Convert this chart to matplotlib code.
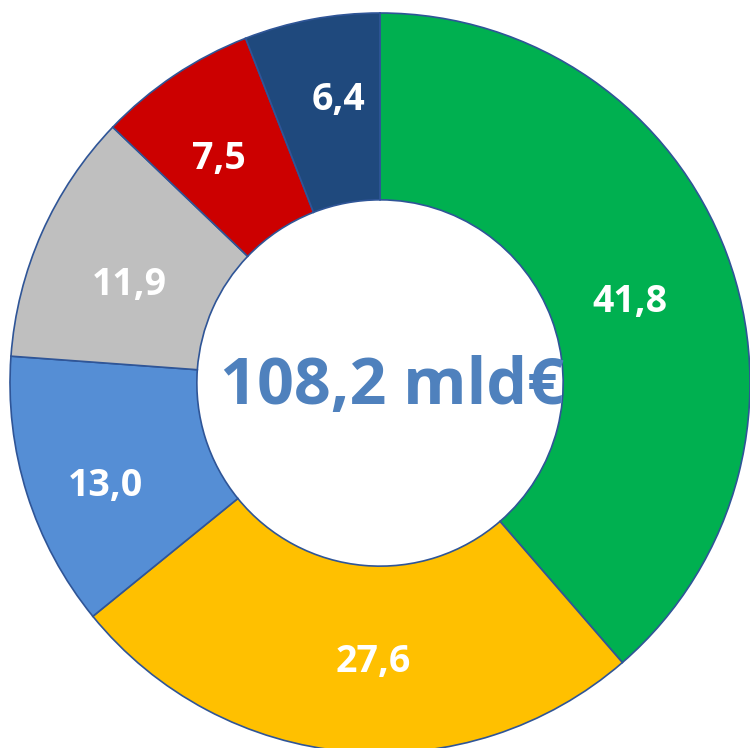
import matplotlib.pyplot as plt

values = [41.8, 27.6, 13.0, 11.9, 7.5, 6.4]
labels = ["41,8", "27,6", "13,0", "11,9", "7,5", "6,4"]
colors = ["#00B050", "#FFC000", "#558ED5", "#BFBFBF", "#CC0000", "#1F497D"]
total_label = "108,2 mld€"

plt.rcParams['font.family'] = ['Open Sans', 'DejaVu Sans']

fig = plt.figure(figsize=(7.5, 7.48), dpi=100)
ax = fig.add_axes([0, 0, 1, 1])

# pixel-like coordinates, y up
cx, cy, r = 380, 748 - 383, 370
wedges, texts = ax.pie(values, labels=labels, colors=colors, startangle=90,
                       counterclock=False, radius=r, center=(cx, cy),
                       labeldistance=0.75,
                       wedgeprops=dict(width=r * 0.505, edgecolor="#2F5597", linewidth=1.2),
                       textprops=dict(color="white", fontsize=27, fontweight="bold"))
# small nudges so labels sit like the excel ones
nudges = [(-10, -16), (17, -3), (-10, -20), (3, -15), (-7, -7), (10, 10)]
for t, (dx, dy) in zip(texts, nudges):
    x, y = t.get_position()
    t.set_position((x + dx, y + dy))
    t.set_ha("center")
    t.set_va("center")

ax.text(cx + 12, cy - 4, total_label, ha="center", va="center",
        fontsize=46.5, fontweight="bold", color="#4F81BD")

ax.set_xlim(0, 750)
ax.set_ylim(0, 748)
ax.set_aspect("equal")
ax.axis("off")

fig.savefig("out.png", dpi=100)
